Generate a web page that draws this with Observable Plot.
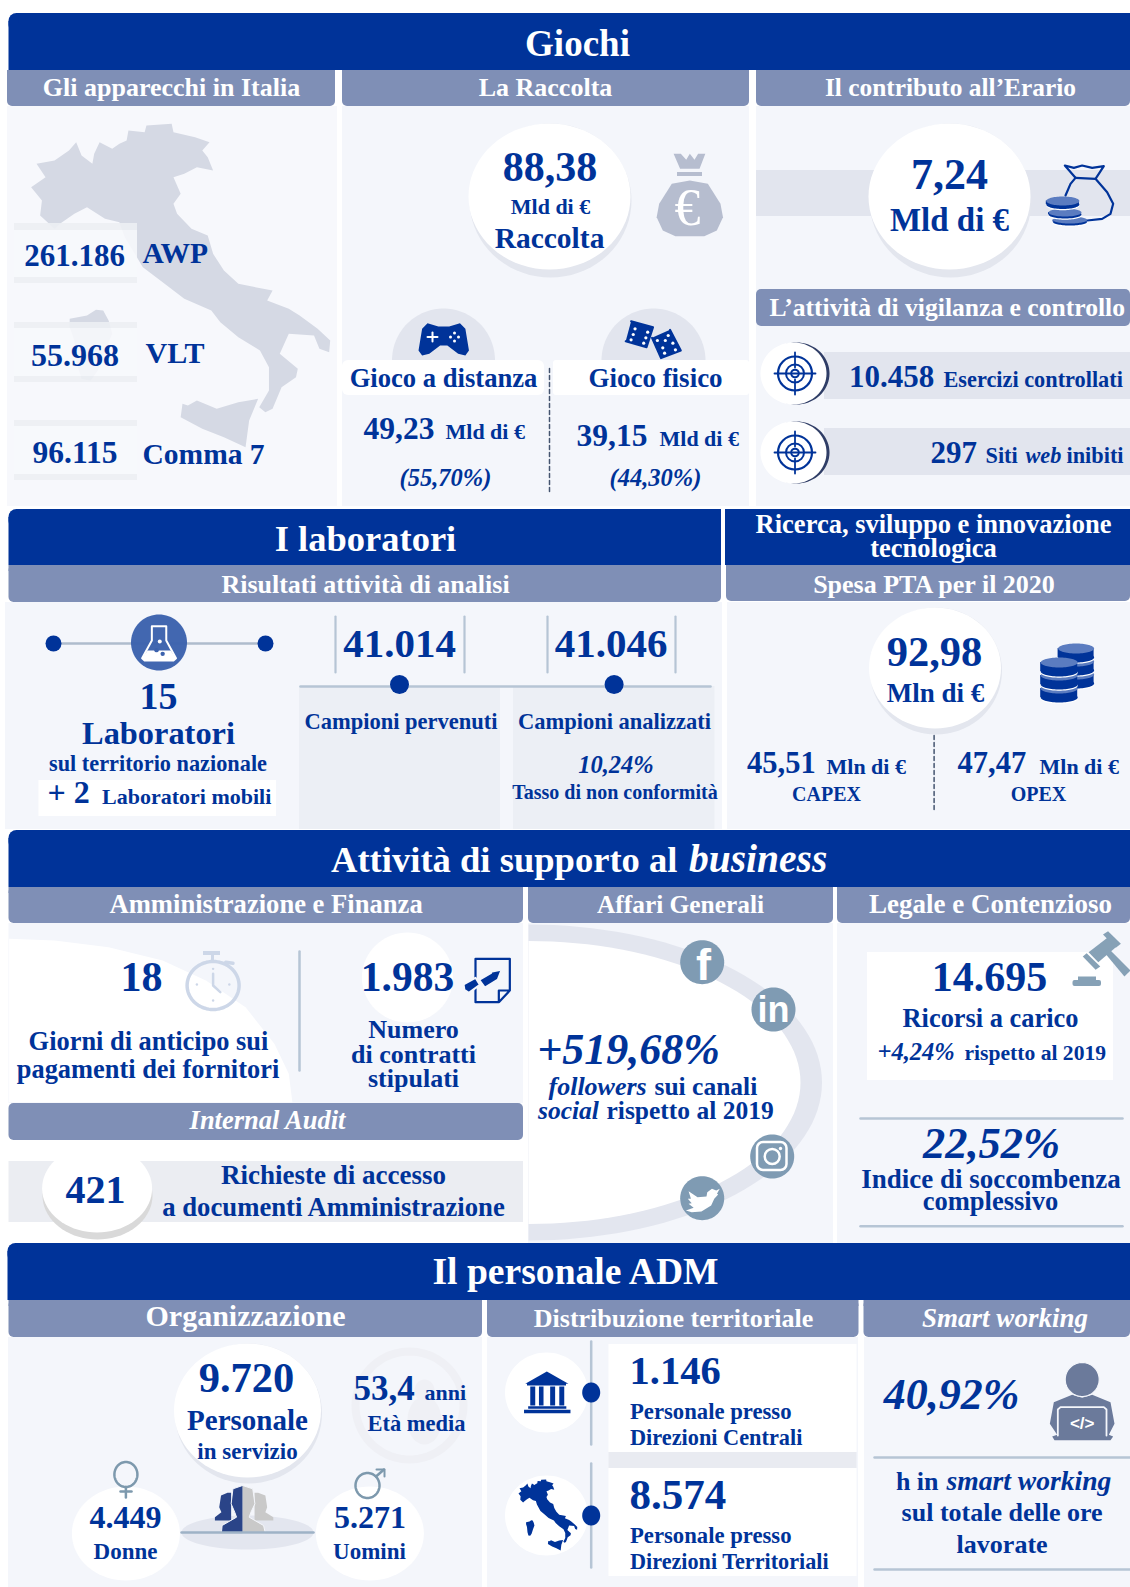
<!DOCTYPE html>
<html lang="it"><head><meta charset="utf-8">
<script src="https://cdn.jsdelivr.net/npm/d3@7"></script>
<script src="https://cdn.jsdelivr.net/npm/@observablehq/plot@0.6"></script>
<style>html,body{margin:0;padding:0;background:#fff}svg{display:block}</style>
</head><body><div id="chart"></div>
<script>
// ---------- values ----------
const sectionTitles = ["Giochi","I laboratori","Attività di supporto al ","business","Il personale ADM"];
const apparecchiNames = ["AWP","VLT","Comma 7"];
const apparecchiValues = [261186,55968,96115];
const raccoltaTotal = 88.38;
const raccoltaNames = ["Gioco a distanza","Gioco fisico"];
const raccoltaValues = [49.23,39.15];
const raccoltaShares = [55.70,44.30];
const erario = 7.24;
const vigilanza = [10458,297];
const laboratori = [15,2];
const campioni = [41014,41046];
const nonConformita = 10.24;
const spesaPTA = [92.98,45.51,47.47];
const anticipo = 18, contratti = 1983, richieste = 421;
const followers = 519.68;
const ricorsi = 14695, ricorsiDelta = 4.24, soccombenza = 22.52;
const personale = 9720, etaMedia = 53.4, generi = [4449,5271];
const distribuzione = [1146,8574];
const smartWorking = 40.92;

// ---------- number formats ----------
const L = d3.formatLocale({decimal:",",thousands:".",grouping:[3],currency:["","€"]});
const I = L.format(",d"), D2 = L.format(",.2f"), D1 = L.format(",.1f");

// ---------- palette ----------
const NAVY="#003399", HEAD="#7f8fb6", PANEL="#f4f6fb", BAND="#e2e5ee", RULE="#b6c5d5", SOC="#7f9bb3", WHITE="#fff";
const SERIF="'Liberation Serif',serif";

// ---------- helpers building Plot marks ----------
const marks=[], texts=[];
const X=d=>d[0], Y=d=>d[1];
const box=(x1,y1,x2,y2,fill,o={})=>marks.push(Plot.rect([{x1,y1,x2,y2}],{x1:"x1",y1:"y1",x2:"x2",y2:"y2",fill,...o}));
const poly=(pts,fill,o={})=>marks.push(Plot.line(pts,{x:X,y:Y,fill,stroke:"none",...o}));
const path=(pts,stroke,strokeWidth=2,o={})=>marks.push(Plot.line(pts,{x:X,y:Y,stroke,strokeWidth,...o}));
const arcPts=(cx,cy,rx,ry,a0,a1,n=72)=>d3.range(n+1).map(i=>{const a=a0+(a1-a0)*i/n;return [cx+rx*Math.cos(a),cy+ry*Math.sin(a)];});
const ell=(cx,cy,rx,ry,fill,o={})=>poly(arcPts(cx,cy,rx,ry,0,2*Math.PI),fill,o);
const dots=(pts,r,fill,o={})=>marks.push(Plot.dot(pts,{x:X,y:Y,r,fill,...o}));
const T=(s,x,y,size,o={})=>texts.push({s,x,y,size,a:o.a||"middle",i:!!o.i,c:o.c||NAVY,w:o.w||"bold",f:o.f||SERIF});
const P1=a=>a.map(([x,y])=>[x/2.775,y/3]), P2=a=>a.map(([x,y])=>[565+x/2.775,y/3]),
      P3=a=>a.map(([x,y])=>[x/2.775,505+y/3]), P5=a=>a.map(([x,y])=>[x/2.775,830+y/3]),
      P6=a=>a.map(([x,y])=>[520+x/2.57,830+y/3]), P7=a=>a.map(([x,y])=>[x/2.775,1240+y/3]),
      P8=a=>a.map(([x,y])=>[480+x/2.412,1240+y/3]);
const Z=(ox,oy)=>a=>a.map(([x,y])=>[ox+x/3,oy+y/3]);
const bubble=(cx,cy,rx,ry,sh,fill=WHITE,sc="#e3e6ee")=>{ell(cx+1,cy+sh/2,rx,ry+sh/2,sc);ell(cx,cy,rx,ry,fill);};
const navyBar=(x1,y1,x2,y2)=>{box(x1,y1,x2,y1+20,NAVY,{rx:8});box(x1,y1+8,x2,y2,NAVY);box(x1+10,y1,x2,y1+10,NAVY);};
const subBar=(x1,y1,x2,y2)=>{box(x1,y1,x2,y2,HEAD,{rx:5});box(x1,y1,x2,y1+6,HEAD);};
const disc=(cx,cy,rx,ry,h,top)=>{ell(cx,cy+h+1.2,rx,ry,WHITE);ell(cx,cy+h,rx,ry,NAVY);box(cx-rx,cy,cx+rx,cy+h,NAVY);ell(cx,cy,rx,ry,top);};

// Italy outline, used for the big background map and the small icon
const italy=[[475,370],[480,395],[540,410],[580,425],[560,450],[575,470],[590,510],[545,500],[510,520],[480,530],[500,580],[480,610],[490,640],[530,685],[575,705],[590,760],[620,810],[660,850],[755,870],[740,900],[800,925],[830,945],[880,985],[915,1020],[912,1055],[885,1045],[870,1005],[800,1000],[775,1060],[825,1105],[820,1130],[780,1160],[755,1225],[735,1235],[718,1220],[745,1170],[745,1100],[720,1050],[660,1010],[610,965],[585,930],[510,895],[450,845],[395,800],[345,710],[330,665],[290,655],[240,620],[205,640],[165,670],[150,685],[110,645],[115,600],[85,560],[125,530],[100,490],[150,480],[190,450],[210,425],[225,465],[255,490],[260,460],[275,425],[310,445],[330,430],[350,420],[355,390],[400,395],[405,375]];
const sardinia=[[192,955],[240,945],[265,928],[285,930],[300,960],[310,1000],[290,1050],[270,1110],[250,1140],[225,1135],[212,1090],[205,1020],[192,980]];
const sicily=[[505,1210],[520,1215],[545,1200],[600,1225],[660,1205],[715,1195],[690,1260],[680,1340],[620,1310],[560,1285],[500,1250]];

// ================= GIOCHI =================
box(7,106,337,506,"#f7f8fc"); box(342,106,749,506,PANEL); box(756,106,1130,506,PANEL);
navyBar(8.5,13,1130,70);
subBar(7,70,335,106); subBar(342,70,749,106); subBar(756,70,1130,106);
T(sectionTitles[0],577,55,37,{c:WHITE});
T("Gli apparecchi in Italia",171,95,26,{c:WHITE});
T("La Raccolta",545,95,26,{c:WHITE});
T("Il contributo all’Erario",950,95,25.4,{c:WHITE});

// map and counters
for (const s of [italy,sardinia,sicily]) poly(P1(s),"#d5d9e4");
[[223,230,277,283],[322,328,376,382],[420,426,474,480]].forEach(([a,b,c,d])=>{
  box(14,b,137,c,"#f7f8fc",{fillOpacity:.88});
  box(14,a,137,b,"#eceef3",{fillOpacity:.9}); box(14,c,137,d,"#eceef3",{fillOpacity:.9});
});
T(I(apparecchiValues[0]),74,265,31);
T(I(apparecchiValues[1]),74.5,365,32);
T(I(apparecchiValues[2]),74.5,462,31.5);
T(apparecchiNames[0],142,262,29.5,{a:"start"});
T(apparecchiNames[1],145,362,30,{a:"start"});
T(apparecchiNames[2],142,463,29.5,{a:"start"});

// raccolta
bubble(549,196,81,73,8);
T(D2(raccoltaTotal),549.5,180,42);
T("Mld di €",550,213,22);
T("Raccolta",549,247,29.5);
poly(P2([[345,540],[395,550],[430,610],[437,650],[420,690],[385,707],[305,707],[270,690],[253,650],[260,610],[295,550]]),"#b6bdcf");
poly(P2([[300,460],[320,460],[335,478],[345,460],[358,478],[368,460],[388,460],[372,505],[318,505]]),"#b6bdcf");
box(677,172,702,176,"#b6bdcf");
T("€",687,224,52,{c:WHITE,w:"normal"});

poly(arcPts(443,360,51.5,52,Math.PI,2*Math.PI),BAND);
poly(arcPts(653,360,52,52,Math.PI,2*Math.PI),BAND);
box(342,360,544,395,WHITE,{rx:6}); box(553,360,749,395,WHITE,{rx:3});
poly(P1([[1185,968],[1215,978],[1245,978],[1275,968],[1290,985],[1300,1050],[1290,1065],[1270,1060],[1240,1035],[1220,1035],[1190,1060],[1170,1065],[1160,1050],[1170,985]]),NAVY);
path([[427,336.5],[437,336.5]],WHITE,2); path([[432,332],[432,341]],WHITE,2);
dots([[454,332.5],[454,340.5],[450,336.5],[458,336.5]],1.5,WHITE);
poly(P2([[182,962],[243,980],[225,1040],[167,1022]]),NAVY,{stroke:NAVY,strokeWidth:2,strokeLinejoin:"round"});
poly(P2([[290,988],[320,1050],[265,1073],[240,1012]]),NAVY,{stroke:NAVY,strokeWidth:2,strokeLinejoin:"round"});
dots(P2([[193,985],[228,995],[188,1002],[223,1012],[182,1018],[217,1028],[285,1005],[298,1028],[255,1020],[270,1042],[277,1020],[305,1048],[275,1058]]),1.6,WHITE);
T(raccoltaNames[0],443,386,26.6); T(raccoltaNames[1],655,386,27);
path([[549,368],[549,493]],"#44546f",1.5,{strokeDasharray:"4,3"});
T(D2(raccoltaValues[0]),363,438,31.5,{a:"start"}); T("Mld di €",445,438,22,{a:"start"});
T(D2(raccoltaValues[1]),576,445,31.5,{a:"start"}); T("Mld di €",659,445,22,{a:"start"});
T("("+D2(raccoltaShares[0])+"%)",445,485,24.5,{i:true});
T("("+D2(raccoltaShares[1])+"%)",655,485,24.5,{i:true});

// erario
box(756,170,1130,216,BAND);
bubble(949,196,81,73,8);
T(D2(erario),949,188,44);
T("Mld di €",949,230,33);
const BG=Z(1020,150);
path(BG([[200,210],[245,205],[270,190],[278,160],[260,125],[225,85],[250,47],[215,52],[185,45],[160,52],[133,45],[165,82],[150,100],[135,135]]),NAVY,2.2);
path(BG([[165,82],[225,85]]),NAVY,2.2);
disc(1069.5,219.5,17,3.5,2,"#5b7cc0"); disc(1064.5,212,16.5,4,2,"#5b7cc0"); disc(1062.3,200.5,16.5,4.5,3.5,"#5b7cc0");

// vigilanza
box(756,289,1130,326,HEAD,{rx:5});
T("L’attività di vigilanza e controllo",769,315,25.6,{a:"start",c:WHITE});
box(824,352,1130,399,BAND); box(824,428,1130,475,BAND);
[373,452].forEach(cy=>{
  ell(796,cy,33,31,"#2f3d66"); ell(793,cy,33,31,WHITE);
  for(const [r,w] of [[17,2.2],[9,2],[3.8,2]]) marks.push(Plot.dot([[794.5,cy]],{x:X,y:Y,r,stroke:NAVY,strokeWidth:w,fill:"none"}));
  path([[774,cy],[815,cy]],NAVY,1.8); path([[794.5,cy-21],[794.5,cy-6]],NAVY,1.8); path([[794.5,cy+6],[794.5,cy+21]],NAVY,1.8);
});
T(I(vigilanza[0]),848.5,386,31,{a:"start"});
T("Esercizi controllati",943,386,22.3,{a:"start"});
T(I(vigilanza[1]),930,462,31,{a:"start"});
T("Siti",985,462,22.3,{a:"start"}); T("web",1025,462,22.3,{a:"start",i:true}); T("inibiti",1066,462,22.3,{a:"start"});

// ================= LABORATORI =================
box(5,602,722,829,PANEL); box(727,602,1130,829,PANEL);
navyBar(8.5,509,721,565); box(725,509,1130,565,NAVY);
subBar(8.5,565,721,602); subBar(726,565,1130,601);
T(sectionTitles[1],365,550,36.5,{c:WHITE});
T("Risultati attività di analisi",365,592,26,{c:WHITE});
T("Ricerca, sviluppo e innovazione",933,532,26.5,{c:WHITE});
T("tecnologica",933,556,26.5,{c:WHITE});
T("Spesa PTA per il 2020",933.5,592,26,{c:WHITE});

path([[53,643],[265,643]],"#aebccd",2.5);
dots([[53,643],[265,643]],8,NAVY);
ell(158.5,642,28,28,"#3c62ad",{fillOpacity:.97});
path(P3([[420,362],[460,362],[460,405],[487,458],[480,465],[400,465],[393,458],[420,405],[420,362]]),WHITE,2);
poly(P3([[408,435],[472,435],[487,458],[480,465],[400,465],[393,458]]),WHITE);
dots(P3([[433,434],[450,445]]),2.2,"#3c62ad"); dots(P3([[442,408]]),2,WHITE);
T(I(laboratori[0]),158,708.5,38);
T("Laboratori",158,743.5,32.4);
T("sul territorio nazionale",157.5,770,22.3);
box(38.5,780,276,816,WHITE);
T("+ "+laboratori[1],47,802,32,{a:"start"});
T("Laboratori mobili",101.5,803,22,{a:"start"});

box(299,686,500,829,"#ecEff5"); box(513,686,714.5,829,"#ecEff5");
[335,464,547,675].forEach(x=>path([[x,616],[x,672]],RULE,2.2));
path([[300,686],[710,686]],RULE,2.6);
dots([[399,684],[613.6,684]],9.5,NAVY);
T(I(campioni[0]),399,656.5,41); T(I(campioni[1]),610.5,656.5,41);
T("Campioni pervenuti",400.5,728,22.5); T("Campioni analizzati",614,728,22.5);
T(D2(nonConformita)+"%",615.5,772,24.5,{i:true});
T("Tasso di non conformità",614.5,798,20);

// PTA
bubble(934.5,667.5,66,60.5,6);
T(D2(spesaPTA[0]),934,665,42.5);
T("Mln di €",935,701,27);
[[1075.6,674],[1075.6,661],[1075.6,648]].forEach(([x,y])=>disc(x,y,18,5,9,"#5b7cc0"));
[[1058.7,688],[1058.7,675],[1058.7,662]].forEach(([x,y])=>disc(x,y,18.5,5,9,"#5b7cc0"));
path([[933.6,735],[933.6,810]],"#44546f",1.5,{strokeDasharray:"4,3"});
T(D2(spesaPTA[1]),746.5,772,30.5,{a:"start"}); T("Mln di €",826,773,22,{a:"start"});
T(D2(spesaPTA[2]),957,772,30.5,{a:"start"}); T("Mln di €",1039,773,22,{a:"start"});
T("CAPEX",826,800,20); T("OPEX",1038,800,20);

// ================= SUPPORTO AL BUSINESS =================
navyBar(8.5,830,1130,887);
box(8.5,923,523,1103,PANEL);
box(528,923,833,1243,PANEL); box(837,923,1130,1243,PANEL);
subBar(8.5,887,523,923); subBar(528,887,833,923); subBar(837,887,1130,923);
T(sectionTitles[2].trim(),677,871,36.6,{a:"end",c:WHITE});
T(sectionTitles[3],688.5,871,39.5,{a:"start",i:true,c:WHITE});
T("Amministrazione e Finanza",265.6,912,26.6,{c:WHITE});
T("Affari Generali",680,912,25.4,{c:WHITE});
T("Legale e Contenzioso",990,912,27,{c:WHITE});

poly(P5([[24,325],[150,330],[300,350],[450,390],[570,450],[680,530],[760,640],[800,730],[810,815],[24,815]]),WHITE);
path([[299,951],[299,1070]],RULE,2.5);
T(I(anticipo),141,990,42);
// stopwatch
const SW="#cdd7e8";
path(arcPts(212.6,985,26,24,0,2*Math.PI),SW,3.5);
box(203,951,220,955,SW); box(211,955,214,962,SW);
path(P5([[625,395],[645,398]]),SW,3.5);
path(P5([[590,430],[590,465],[610,485]]),SW,2.5);
dots(P5([[590,415],[545,462],[635,462],[590,510]]),1.2,SW);
T("Giorni di anticipo sui",148,1049,26.4);
T("pagamenti dei fornitori",147.5,1077,26.4);
ell(407,977,45.6,45,WHITE);
T(I(contratti),407,990,41.5);
// contract icon
const CT=Z(450,945);
path(CT([[145,170],[75,170],[75,40],[178,40],[178,135],[145,170],[145,135],[178,135]]),NAVY,2.2);
poly(CT([[152,76],[142,102],[103,126],[86,103],[122,82]]),NAVY,{stroke:PANEL,strokeWidth:2});
poly(CT([[42,115],[75,97],[88,118],[55,142],[45,135]]),NAVY,{stroke:PANEL,strokeWidth:2});
T("Numero",413,1037,26); T("di contratti",413,1062,26); T("stipulati",413,1086,26);
box(8.5,1103,523,1140,HEAD,{rx:5});
T("Internal Audit",267,1128,26.5,{i:true,c:WHITE});
box(8.5,1161,523,1222,"#ebedf2");
ell(97,1195,55,44,"#d9d9d9"); ell(96.6,1188,55,44,WHITE);
T(I(richieste),95,1202,40);
T("Richieste di accesso",333,1183,27);
T("a documenti Amministrazione",333,1215,26.7);

// affari generali
poly(arcPts(528,1082,293.5,158,-Math.PI/2,Math.PI/2),"#e3e6ef");
poly(arcPts(528,1082,272,141.5,-Math.PI/2,Math.PI/2),WHITE);
[[701.7,961.7],[773,1009],[771.7,1156],[701.7,1197.7]].forEach(([x,y])=>ell(x,y,22,22,SOC));
T("f",703,979,45,{c:WHITE,f:"'Liberation Sans',sans-serif"});
T("in",773,1021,36,{c:WHITE,f:"'Liberation Sans',sans-serif"});
box(757,1142,786.5,1170,"none",{stroke:WHITE,strokeWidth:2.5,rx:6});
marks.push(Plot.dot([[771.7,1156]],{x:X,y:Y,r:7.5,stroke:WHITE,strokeWidth:2.5,fill:"none"}));
dots([[780,1148]],1.7,WHITE);
poly(P6([[432,1082],[455,1100],[478,1098],[480,1085],[492,1075],[503,1080],[512,1075],[505,1090],[508,1092],[498,1105],[490,1125],[465,1143],[440,1145],[425,1140],[445,1132],[432,1120],[440,1118],[430,1105],[438,1105]]),WHITE);
T("+"+D2(followers)+"%",628,1063,44,{i:true});
T("followers",548,1094,26,{a:"start",i:true}); T("sui canali",654,1094,25.5,{a:"start"});
T("social",537.5,1118,25.5,{a:"start",i:true}); T("rispetto al 2019",606,1118,25.5,{a:"start"});

// legale
box(867,952,1113,1080,WHITE);
T(I(ricorsi),989,990,42);
const GV="#86a1b6";
poly(P6([[1460,365],[1510,320],[1530,350],[1485,395]]),GV);
poly(P6([[1445,378],[1455,368],[1490,408],[1478,418]]),GV);
poly(P6([[1497,312],[1510,302],[1543,340],[1530,352]]),GV);
poly(P6([[1500,365],[1512,355],[1568,420],[1552,438]]),GV);
box(1072.5,980,1101,986,GV,{rx:2}); box(1078,976.5,1096,981,GV);
T("Ricorsi a carico",990,1026,26.4);
T("+"+D2(ricorsiDelta)+"%",877,1059,24.5,{a:"start",i:true});
T("rispetto al 2019",964,1059,21.6,{a:"start"});
path([[860,1118],[1122,1118]],RULE,2.5); path([[860,1225.7],[1122,1225.7]],RULE,2.5);
T(D2(soccombenza)+"%",991,1157,44.5,{i:true});
T("Indice di soccombenza",990.5,1187,27);
T("complessivo",990,1209,26.5);

// ================= PERSONALE =================
box(8,1337,482,1587,PANEL); box(487,1337,858,1587,PANEL); box(864,1337,1130,1587,PANEL);
navyBar(7.5,1243,1130,1300);
subBar(8.5,1300,482,1337); subBar(487,1300,858.5,1337); subBar(863.5,1300,1130,1337);
T(sectionTitles[4],575,1283,37.6,{c:WHITE});
T("Organizzazione",245,1325,30,{c:WHITE});
T("Distribuzione territoriale",673,1326,26,{c:WHITE});
T("Smart working",1004.5,1326,27,{i:true,c:WHITE});

path(arcPts(409,1405,54,54,0,2*Math.PI),"#eff0f5",8);
ell(424,1420,17,24,"#eff0f5"); ell(424,1390,10,11,"#eff0f5");
bubble(247,1410,73.5,67,6);
T(I(personale),246,1391,42.5);
T("Personale",247,1429,29);
T("in servizio",247,1458,23);
T(D1(etaMedia),353,1399,35,{a:"start"}); T("anni",424,1399,22,{a:"start"});
T("Età media",416,1430,22.5);

// gender symbols
ell(125.4,1533,54,47,WHITE); ell(369.4,1533,54,47,WHITE);
const SX="#7d99ad";
path(arcPts(125.4,1474,11.5,12.5,0,2*Math.PI),SX,2.5);
path([[125.4,1486.5],[125.4,1497]],SX,2.5); path([[120,1491],[131,1491]],SX,2.5);
path(arcPts(367,1485,12,12.5,0,2*Math.PI),SX,2.5);
path([[375.5,1476],[383.5,1469]],SX,2.5); path([[376,1469],[384,1469],[384,1476]],SX,2);
T(I(generi[0]),125,1527,32); T("Donne",125,1558,23);
T(I(generi[1]),369.4,1527,32); T("Uomini",369,1558,23);

// people icon
ell(247,1532,66,17,"#e3e6ef");
poly(P7([[630,757],[612,765],[607,800],[613,815],[595,830],[595,840],[640,840],[640,757]]),"#2a4488");
poly(P7([[715,757],[735,765],[740,800],[735,815],[757,830],[757,840],[705,840],[705,757]]),"#c9c9c9");
poly(P7([[672,735],[645,745],[640,790],[650,815],[655,830],[615,855],[613,878],[672,878]]),"#2a4488",{stroke:"#f4f6fb",strokeWidth:1});
poly(P7([[672,735],[700,745],[706,790],[695,815],[690,830],[730,855],[735,878],[672,878]]),"#c9c9c9",{stroke:"#f4f6fb",strokeWidth:1});
path([[181,1532],[313,1532]],"#9eb2c6",2.5);

// distribuzione
box(608.5,1344,856.5,1452,WHITE); box(608.5,1468,856.5,1576,WHITE);
box(608.5,1452,856.5,1468,"#e9ebf1");
ell(546,1392,41.5,40,WHITE); ell(546,1515,41.5,40,WHITE);
path([[590.7,1341],[590.7,1444]],RULE,2.5); path([[590.7,1463],[590.7,1567]],RULE,2.5);
ell(590.7,1392,9,10,NAVY); ell(590.7,1515,9,10,NAVY);
poly(P8([[160,393],[212,430],[108,430]]),NAVY);
for (const [a,b] of [[120,132],[141,152],[168,180],[190,202]]) poly(P8([[a,438],[b,438],[b,495],[a,495]]),NAVY);
box(527,1383,566,1385.5,NAVY);
poly(P8([[115,497],[207,497],[207,505],[115,505]]),NAVY);
poly(P8([[105,508],[217,508],[217,518],[105,518]]),NAVY);
const sm=a=>a.map(([x,y])=>[518+(x-85)/833*59,1479+(y-370)/970*71]);
for (const s of [italy,sardinia,sicily]) poly(sm(s),NAVY);
T(I(distribuzione[0]),629,1383,40.5,{a:"start"});
T("Personale presso",629.5,1418,22.7,{a:"start"});
T("Direzioni Centrali",629.5,1444,22.3,{a:"start"});
T(I(distribuzione[1]),629,1508,43,{a:"start"});
T("Personale presso",629.5,1542,22.7,{a:"start"});
T("Direzioni Territoriali",629.5,1568,22.2,{a:"start"});

// smart working
T(D2(smartWorking)+"%",951,1408,44,{i:true});
const PP="#6b7a9b", LP=Z(1040,1355);
poly(LP([[40,140],[95,118],[125,127],[155,118],[210,140],[222,205],[205,238],[218,243],[210,254],[42,254],[35,243],[50,238],[28,205]]),PP);
ell(1081.7,1379,17,17,PP,{stroke:"#f4f6fb",strokeWidth:1.2});
path(LP([[52,240],[52,162],[60,155],[190,155],[198,162],[198,240]]),"#f4f6fb",1.8);
T("</>",1081.7,1428,17,{c:WHITE,f:"'Liberation Sans',sans-serif"});
path([[874,1457],[1130,1457]],RULE,2.5); path([[874,1569],[1130,1569]],RULE,2.5);
T("h in",895.4,1489,26,{a:"start"}); T("smart working",946,1489,27.6,{a:"start",i:true});
T("sul totale delle ore",1001.6,1520,26);
T("lavorate",1001.6,1552,26);

// ---------- all text as Plot text marks, one per style group ----------
const textMarks=d3.groups(texts,d=>[d.a,d.i,d.c,d.w,d.f].join("|")).map(([,rows])=>{
  const r=rows[0];
  return Plot.text(rows,{x:"x",y:"y",text:"s",fontSize:d=>d.size,textAnchor:r.a,lineAnchor:"bottom",fill:r.c,
    fontWeight:r.w,fontStyle:r.i?"italic":"normal",fontFamily:r.f});
});

const chart=Plot.plot({width:1130,height:1587,margin:0,
  x:{domain:[0,1130],axis:null},y:{domain:[1587,0],axis:null},
  style:{background:"#fff",fontFamily:SERIF},
  marks:[...marks,...textMarks]});
document.getElementById("chart").appendChild(chart);
</script></body></html>
